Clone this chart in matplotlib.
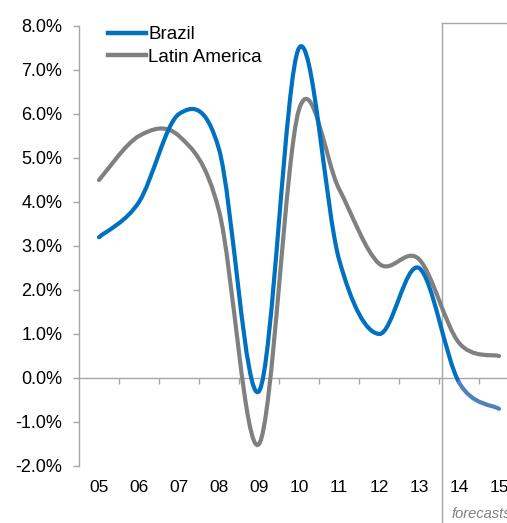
import numpy as np
import matplotlib
matplotlib.use("Agg")
import matplotlib.pyplot as plt
from matplotlib.path import Path
from matplotlib.patches import PathPatch
from matplotlib.ticker import FuncFormatter, MultipleLocator

plt.rcParams['font.family'] = ['Liberation Sans', 'DejaVu Sans']

years = ["05", "06", "07", "08", "09", "10", "11", "12", "13", "14", "15"]
brazil = [3.2, 4.0, 6.0, 5.2, -0.3, 7.5, 2.7, 1.0, 2.5, -0.1, -0.7]
latam = [4.5, 5.5, 5.5, 3.8, -1.5, 6.1, 4.3, 2.6, 2.7, 0.8, 0.5]
n_actual = 10  # points up to 14, last segment is forecast

blue = "#0070c0"
blue_fc = "#4f81bd"
grey = "#808080"
axis_grey = "#a6a6a6"


def smooth_path(x, y):
  # excel style smoothing: catmull-rom turned into cubic beziers
  x = np.asarray(x, float)
  y = np.asarray(y, float)
  px = np.concatenate([[x[0]], x, [x[-1]]])
  py = np.concatenate([[y[0]], y, [y[-1]]])
  verts = [(x[0], y[0])]
  codes = [Path.MOVETO]
  for i in range(1, len(x)):
    c1 = (px[i] + (px[i + 1] - px[i - 1]) / 6., py[i] + (py[i + 1] - py[i - 1]) / 6.)
    c2 = (px[i + 1] - (px[i + 2] - px[i]) / 6., py[i + 1] - (py[i + 2] - py[i]) / 6.)
    verts += [c1, c2, (x[i], y[i])]
    codes += [Path.CURVE4] * 3
  return Path(verts, codes)


def split_path(x, y, k):
  # full smooth curve, split into the part up to point k and the rest
  p = smooth_path(x, y)
  v, c = p.vertices, p.codes
  cut = 1 + 3 * k
  first = Path(v[:cut], c[:cut])
  second = Path(v[cut - 1:], [Path.MOVETO] + list(c[cut:]))
  return first, second


W, H = 507, 523
fig = plt.figure(figsize=(W / 100., H / 100.), dpi=100)
ax = fig.add_axes([79. / W, 57. / H, 440. / W, 440. / H])

x = np.arange(len(years))

b1, b2 = split_path(x, brazil, n_actual - 1)
ax.add_patch(PathPatch(smooth_path(x, latam), fill=False, edgecolor=grey, lw=3, capstyle='round', zorder=3))
ax.add_patch(PathPatch(b1, fill=False, edgecolor=blue, lw=3, capstyle='round', zorder=4))
ax.add_patch(PathPatch(b2, fill=False, edgecolor=blue_fc, lw=3, capstyle='round', zorder=4))

# legend handles
ax.plot([], [], color=blue, lw=3.2, label="Brazil")
ax.plot([], [], color=grey, lw=3.2, label="Latin America")

ax.set_xlim(-0.5, len(years) - 0.5)
ax.set_ylim(-2, 8)

for s in ["top", "right", "bottom"]:
  ax.spines[s].set_visible(False)
ax.spines["left"].set_color(axis_grey)
ax.spines["left"].set_linewidth(1)

ax.yaxis.set_major_locator(MultipleLocator(1))
ax.yaxis.set_major_formatter(FuncFormatter(lambda v, p: "%.1f%%" % v))
ax.tick_params(axis='y', direction='out', length=4, width=1, color=axis_grey,
               labelsize=13, pad=8, labelcolor="black")

ax.set_xticks(x)
ax.set_xticklabels(years)
ax.tick_params(axis='x', length=0, labelsize=12.5, pad=10, labelcolor="black")

# zero line with category boundary ticks
zero = ax.secondary_xaxis(0.2)
zero.spines["bottom"].set_color(axis_grey)
zero.spines["bottom"].set_linewidth(1)
zero.set_xticks(np.arange(0.5, len(years) - 0.5, 1.0))
zero.tick_params(axis='x', direction='out', length=4, width=1, color=axis_grey, labelbottom=False)

# forecast box
fc_x = 8.575
ax.axvline(fc_x, ymin=-0.2, ymax=1.007, color=axis_grey, lw=1, clip_on=False, zorder=2)
ax.axhline(8.07, xmin=(fc_x + 0.5) / 11., xmax=1.0, color=axis_grey, lw=1, clip_on=False, zorder=2)
ax.text(fc_x + 0.25, -3.1, "forecasts", fontsize=10.5, style='italic', color=grey,
        ha='left', va='center', clip_on=False)

fig.legend(loc="upper left", bbox_to_anchor=(108. / W, 1 - 26. / H), frameon=False,
           fontsize=13.5, handlelength=2.0, handletextpad=0.15, labelspacing=0.3,
           borderpad=0, borderaxespad=0)

fig.savefig("out.png", dpi=100)
